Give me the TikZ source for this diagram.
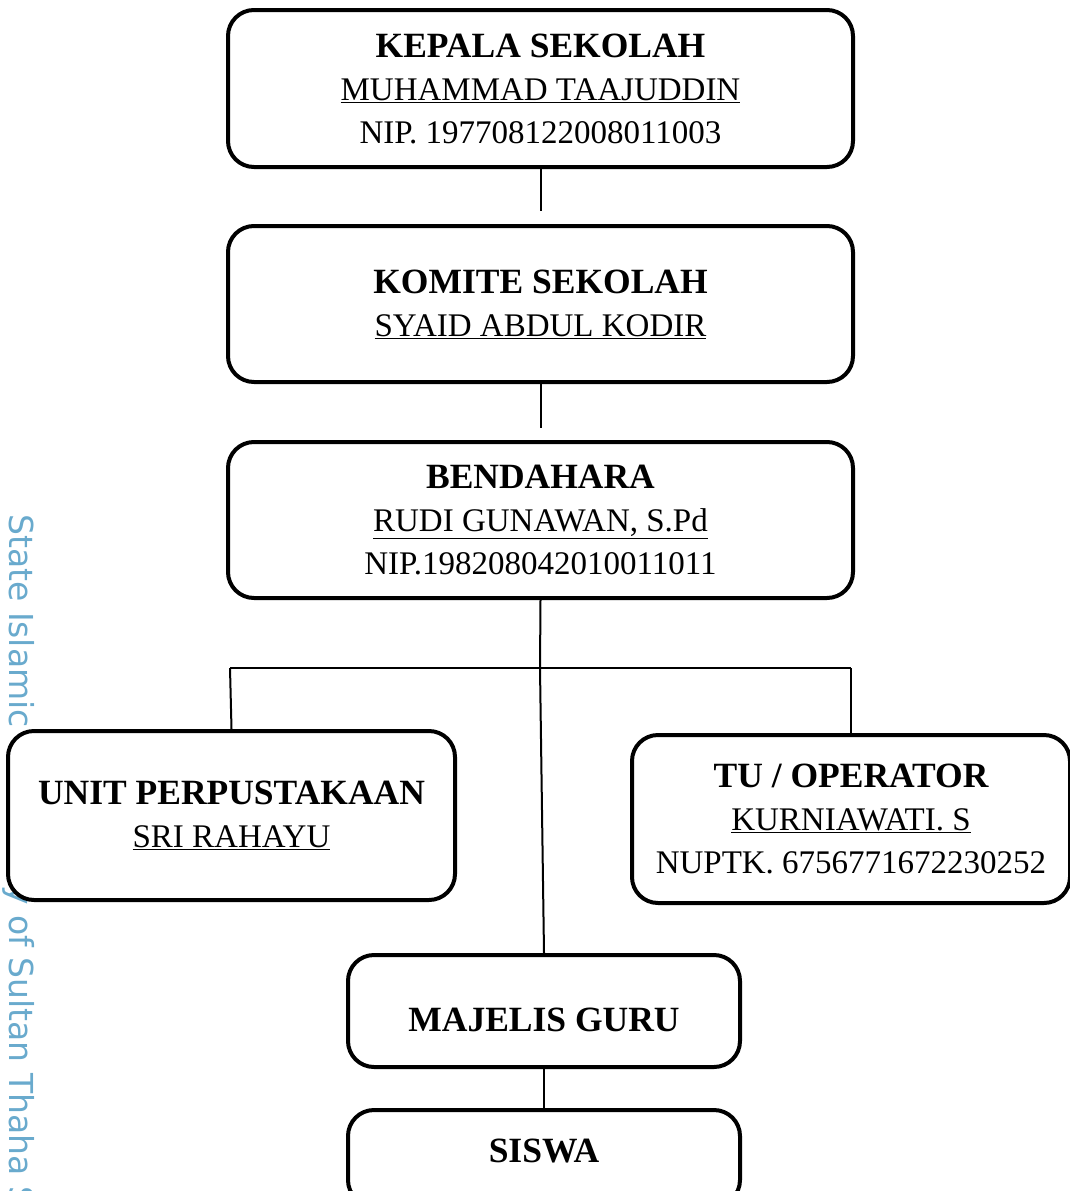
\documentclass[tikz,border=0pt]{standalone}
\usepackage{fontspec}
\setmainfont{Liberation Serif}
\newfontfamily\wmfont{DejaVu Sans}
\usetikzlibrary{calc}
\definecolor{wmblue}{RGB}{105,170,205}
\newcommand{\hd}[1]{{\fontsize{35.5}{43}\selectfont\bfseries #1}}
\begin{document}
\begin{tikzpicture}[x=1pt,y=-1pt,
  orgbox/.style={draw=black, line width=4pt, rounded corners=26pt, fill=white, align=center,
    font=\fontsize{33}{43}\selectfont, inner sep=0pt},
  lbl/.style={font=\fontsize{33}{43}\selectfont, inner sep=0pt},
  link/.style={draw=black, line width=2pt}]
\path[use as bounding box] (0,0) rectangle (1070,1191);
\begin{scope}
\clip (0,0) rectangle (1070,1191);
% watermark
\node[text=wmblue, rotate=-90, anchor=south west, font=\wmfont\fontsize{33}{33}\selectfont, inner sep=0pt]
  (wm) at (2,514) {State Islamic University of Sultan Thaha S};
% boxes
\node[orgbox, minimum width=625, minimum height=157] (kep) at (540.5,88.5)
  {\hd{KEPALA SEKOLAH}\\\underline{MUHAMMAD TAAJUDDIN}\\NIP. 197708122008011003};
\node[orgbox, minimum width=625, minimum height=156] (kom) at (540.5,304)
  {\hd{KOMITE SEKOLAH}\\\underline{SYAID ABDUL KODIR}};
\node[orgbox, minimum width=625, minimum height=156] (ben) at (540.5,520)
  {\hd{BENDAHARA}\\\underline{RUDI GUNAWAN, S.Pd}\\NIP.198208042010011011};
\node[orgbox, minimum width=447, minimum height=169] (unit) at (231.5,815.5)
  {\hd{UNIT PERPUSTAKAAN}\\\underline{SRI RAHAYU}};
\node[orgbox, minimum width=438, minimum height=168] (tu) at (851,819)
  {\hd{TU / OPERATOR}\\\underline{KURNIAWATI. S}\\NUPTK. 6756771672230252};
\node[orgbox, minimum width=392, minimum height=112] (mg) at (544,1011) {};
\node[lbl] (mgt) at ($(mg.center)+(0,9)$) {\hd{MAJELIS GURU}};
\node[orgbox, minimum width=392, minimum height=96] (sis) at (544,1158) {};
\node[lbl] (sist) at ($(sis.center)+(0,-7)$) {\hd{SISWA}};
% connectors
\coordinate (j) at (540,668);
\coordinate (jl) at (230,668);
\coordinate (jr) at (851,668);
\draw[link, shorten >=13pt] (kep.south) -- (kom.north);
\draw[link, shorten >=12pt] (kom.south) -- (ben.north);
\draw[link] (ben.south) -- (j);
\draw[link] (j) -- (mg.north);
\draw[link] (jl) -- (jr);
\draw[link] (jl) -- (unit.north);
\draw[link] (jr) -- (tu.north);
\draw[link] (mg.south) -- (sis.north);
\end{scope}
\end{tikzpicture}
\end{document}
